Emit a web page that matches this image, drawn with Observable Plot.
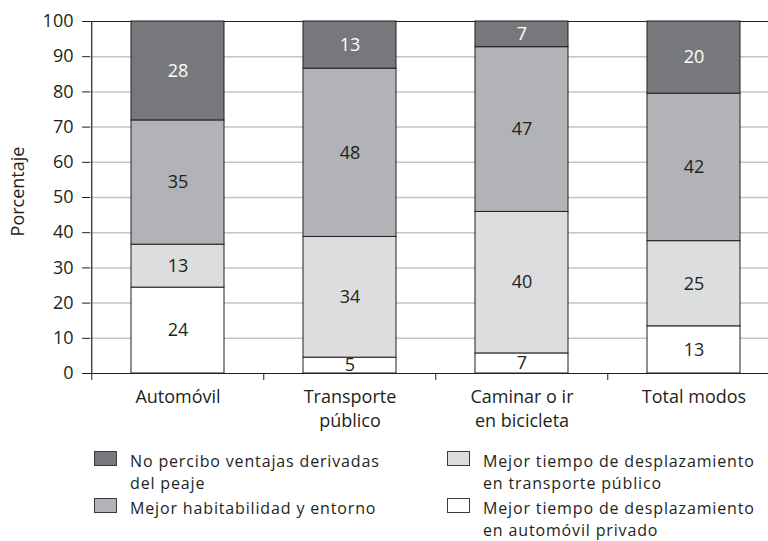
<!DOCTYPE html>
<html>
<head>
<meta charset="utf-8">
<script src="https://cdn.jsdelivr.net/npm/d3@7"></script>
<script src="https://cdn.jsdelivr.net/npm/@observablehq/plot@0.6"></script>
<style>
  html, body { margin: 0; padding: 0; background: #fff; }
  body { width: 768px; height: 541px; position: relative; overflow: hidden; font-family: "Open Sans", sans-serif; color: #231f20; }
  #chart { position: absolute; left: 0; top: 0; }
  .sw { position: absolute; width: 21px; height: 13px; border: 1px solid #3a3a3c; }
  .lt { position: absolute; font-size: 16px; letter-spacing: 0.85px; line-height: 22px; height: 22px; white-space: nowrap; }
</style>
</head>
<body>
<div id="chart"></div>
<div id="legend"></div>
<script>
// Categories (x axis), two-line tick labels
const categories = ["Automóvil", "Transporte público", "Caminar o ir en bicicleta", "Total modos"];
const tickLabels = ["Automóvil", "Transporte\npúblico", "Caminar o ir\nen bicicleta", "Total modos"];

// Series (bottom to top of each stack)
const series = [
  "Mejor tiempo de desplazamiento en automóvil privado",
  "Mejor tiempo de desplazamiento en transporte público",
  "Mejor habitabilidad y entorno",
  "No percibo ventajas derivadas del peaje"
];
const seriesColors = ["#ffffff", "#dcdddf", "#b1b3b6", "#77787b"];
const labelColors = ["#231f20", "#231f20", "#231f20", "#ffffff"];

// Legend lines per series (same order as series)
const legendLines = [
  ["Mejor tiempo de desplazamiento", "en automóvil privado"],
  ["Mejor tiempo de desplazamiento", "en transporte público"],
  ["Mejor habitabilidad y entorno"],
  ["No percibo ventajas derivadas", "del peaje"]
];

// Segment heights (percent), per series, in category order
const valAutomovilPrivado = [24.4, 4.5, 5.7, 13.4];
const valTransportePublico = [12.2, 34.3, 40.2, 24.2];
const valHabitabilidad = [35.3, 47.8, 46.8, 41.9];
const valNoVentajas = [28.1, 13.4, 7.3, 20.5];

// Printed labels
const lblAutomovilPrivado = [24, 5, 7, 13];
const lblTransportePublico = [13, 34, 40, 25];
const lblHabitabilidad = [35, 48, 47, 42];
const lblNoVentajas = [28, 13, 7, 20];

const yTicks = [0, 10, 20, 30, 40, 50, 60, 70, 80, 90, 100];
const yLabel = "Porcentaje";

const vals = [valAutomovilPrivado, valTransportePublico, valHabitabilidad, valNoVentajas];
const lbls = [lblAutomovilPrivado, lblTransportePublico, lblHabitabilidad, lblNoVentajas];
const data = [];
series.forEach((s, si) => categories.forEach((c, ci) => {
  data.push({cat: c, series: s, si, value: vals[si][ci], label: String(lbls[si][ci])});
}));

const xRange = [90, 780];
const step = (xRange[1] - xRange[0]) / categories.length;
const ink = "#231f20";
const fs = 18;

const chart = Plot.plot({
  width: 768,
  height: 440,
  marginTop: 21,
  marginBottom: 67,
  marginLeft: 90,
  marginRight: 0,
  style: {fontFamily: "Open Sans", fontSize: fs + "px", color: ink, background: "transparent"},
  x: {domain: categories, range: xRange, paddingInner: 0.46, paddingOuter: 0.23, label: null},
  y: {domain: [0, 100], label: null},
  color: {domain: series, range: seriesColors},
  marks: [
    Plot.gridY(yTicks.filter(d => d > 0 && d < 100), {stroke: "#c4c4c4", strokeOpacity: 1, strokeWidth: 1.5}),
    Plot.ruleY([100], {stroke: ink, strokeWidth: 1.2}),
    Plot.barY(data, {x: "cat", y: "value", fill: "series", stroke: ink, strokeWidth: 1, order: null}),
    Plot.text(data, Plot.stackY({x: "cat", y: "value", text: "label", fill: d => labelColors[d.si], fontSize: fs, order: null})),
    Plot.ruleY([0], {stroke: ink, strokeWidth: 1.2}),
    Plot.ruleX([categories[0]], {x: d => d, dx: -step / 2, y1: 0, y2: 100, stroke: ink, strokeWidth: 1.2}),
    Plot.ruleX(categories, {x: d => d, dx: -step / 2, y1: 0, y2: 0, insetBottom: -7, stroke: ink, strokeWidth: 1}),
    Plot.axisY({ticks: yTicks, tickSize: 8, tickPadding: 9, stroke: ink, fontSize: fs, label: null}),
    Plot.axisX({tickSize: 0, tickPadding: 13, tickFormat: d => tickLabels[categories.indexOf(d)], fontSize: fs, lineHeight: 1.3, label: null}),
    Plot.text([yLabel], {frameAnchor: "left", textAnchor: "middle", dx: -72, dy: -6, rotate: -90, fontSize: fs, fill: ink})
  ]
});
document.getElementById("chart").appendChild(chart);

// Legend (HTML, below the plot), two columns x two rows
const legendOrder = [3, 2, 1, 0];
const legendCols = [94, 447];
const legendRows = [451, 498];
const lg = document.getElementById("legend");
legendOrder.forEach((si, k) => {
  const left = legendCols[Math.floor(k / 2)];
  const top = legendRows[k % 2];
  const sw = document.createElement("div");
  sw.className = "sw";
  sw.style.left = left + "px";
  sw.style.top = top + "px";
  sw.style.background = seriesColors[si];
  lg.appendChild(sw);
  legendLines[si].forEach((line, li) => {
    const t = document.createElement("div");
    t.className = "lt";
    t.style.left = (left + 36) + "px";
    t.style.top = (top - 1 + li * 22) + "px";
    t.textContent = line;
    lg.appendChild(t);
  });
});
</script>
</body>
</html>
